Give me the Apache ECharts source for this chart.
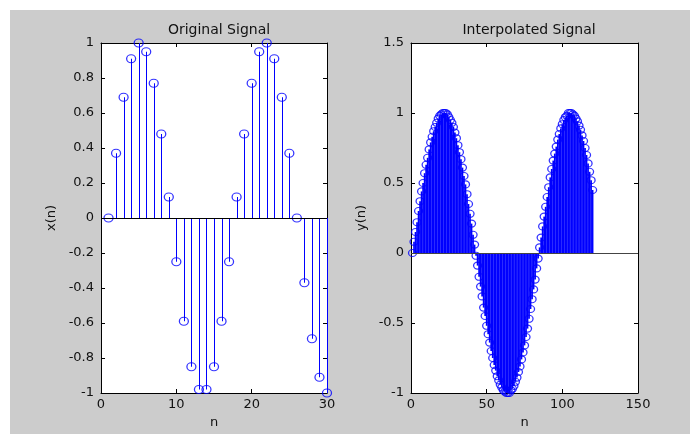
<!DOCTYPE html>
<html lang="en">
    <head>
        <meta charset="UTF-8" />
        <title>Original and Interpolated Signal</title>
        <script src="https://cdn.jsdelivr.net/npm/echarts@6/dist/echarts.min.js"></script>
        <style>
            * {
                margin: 0;
                padding: 0;
            }
            body {
                background: #fff;
                width: 690px;
                height: 434px;
                position: relative;
                overflow: hidden;
            }
            #chart {
                position: absolute;
                left: 10px;
                top: 10px;
                width: 680px;
                height: 424px;
                background: #cccccc;
            }
        </style>
    </head>
    <body>
        <div id="chart"></div>
        <script type="text/javascript">
            // left plot: x(n), n = 1..30
            const origValues = [
                0, 0.37, 0.69, 0.91, 1.0, 0.95, 0.77, 0.48, 0.12, -0.25,
                -0.59, -0.85, -0.98, -0.98, -0.85, -0.59, -0.25, 0.12, 0.48, 0.77,
                0.95, 1.0, 0.91, 0.69, 0.37, 0.0, -0.37, -0.69, -0.91, -1.0
            ];
            // right plot: y(n), n = 1..120
            const interpValues = [
                0, 0.08, 0.15, 0.22, 0.3, 0.37, 0.44, 0.5, 0.57, 0.63,
                0.68, 0.74, 0.79, 0.83, 0.87, 0.9, 0.93, 0.96, 0.98, 0.99,
                1.0, 1.0, 1.0, 0.99, 0.97, 0.95, 0.93, 0.9, 0.86, 0.82,
                0.77, 0.72, 0.67, 0.61, 0.55, 0.49, 0.42, 0.35, 0.28, 0.21,
                0.13, 0.06, -0.02, -0.09, -0.17, -0.24, -0.31, -0.39, -0.45, -0.52,
                -0.58, -0.64, -0.7, -0.75, -0.8, -0.84, -0.88, -0.91, -0.94, -0.96,
                -0.98, -0.99, -1.0, -1.0, -1.0, -0.98, -0.97, -0.95, -0.92, -0.89,
                -0.85, -0.81, -0.76, -0.71, -0.66, -0.6, -0.54, -0.47, -0.4, -0.33,
                -0.26, -0.19, -0.11, -0.04, 0.04, 0.11, 0.19, 0.26, 0.33, 0.4,
                0.47, 0.54, 0.6, 0.66, 0.71, 0.76, 0.81, 0.85, 0.89, 0.92,
                0.95, 0.97, 0.98, 1.0, 1.0, 1.0, 0.99, 0.98, 0.96, 0.94,
                0.91, 0.88, 0.84, 0.8, 0.75, 0.7, 0.64, 0.58, 0.52, 0.45
            ];
            const leftXTicks = [0, 10, 20, 30];
            const leftYTicks = [-1, -0.8, -0.6, -0.4, -0.2, 0, 0.2, 0.4, 0.6, 0.8, 1];
            const rightXTicks = [0, 50, 100, 150];
            const rightYTicks = [-1, -0.5, 0, 0.5, 1, 1.5];

            const FONT = 'DejaVu Sans';
            const TXT = '#111';
            const BLUE = '#0000ff';

            const toPairs = (vals) => vals.map((v, i) => [i + 1, v]);
            const tidy = (v) => String(Math.round(v * 10) / 10);

            function axisFrom(ticks, extra) {
                return Object.assign(
                    {
                        type: 'value',
                        min: ticks[0],
                        max: ticks[ticks.length - 1],
                        interval: Math.round((ticks[1] - ticks[0]) * 1000) / 1000,
                        splitLine: { show: false },
                        axisLine: { onZero: false, lineStyle: { color: '#000', width: 1 } },
                        axisTick: { inside: true, length: 4, lineStyle: { color: '#000' } },
                        axisLabel: { color: TXT, fontFamily: FONT, fontSize: 13, formatter: tidy },
                        nameTextStyle: { color: TXT, fontFamily: FONT, fontSize: 13 },
                    },
                    extra
                );
            }

            function stems(idx, vals, width, snap) {
                return {
                    type: 'custom',
                    xAxisIndex: idx,
                    yAxisIndex: idx,
                    silent: true,
                    z: 2,
                    data: toPairs(vals),
                    renderItem: function (params, api) {
                        var top = api.coord([api.value(0), api.value(1)]);
                        var base = api.coord([api.value(0), 0]);
                        var x = snap ? Math.round(top[0]) + 0.5 : top[0];
                        return {
                            type: 'line',
                            shape: { x1: x, y1: base[1], x2: x, y2: top[1] },
                            style: { stroke: BLUE, lineWidth: width },
                        };
                    },
                };
            }

            function markers(idx, vals, size, zeroColor) {
                return {
                    type: 'scatter',
                    xAxisIndex: idx,
                    yAxisIndex: idx,
                    silent: true,
                    z: 3,
                    symbol: 'circle',
                    symbolSize: size,
                    itemStyle: { color: 'rgba(0,0,0,0)', borderColor: BLUE, borderWidth: 1.2 },
                    data: toPairs(vals),
                    markLine: {
                        silent: true,
                        symbol: ['none', 'none'],
                        label: { show: false },
                        lineStyle: { color: zeroColor, type: 'solid', width: 1 },
                        data: [{ yAxis: 0 }],
                    },
                };
            }

            function labelled(ticks, grid, name, isY) {
                return axisFrom(ticks, {
                    gridIndex: grid,
                    position: isY ? 'left' : 'bottom',
                    name: name,
                    nameLocation: 'middle',
                    nameGap: isY ? 43 : 21,
                    axisLabel: {
                        color: TXT,
                        fontFamily: FONT,
                        fontSize: 13,
                        margin: isY ? 7 : 5,
                        formatter: tidy,
                    },
                });
            }

            function mirror(ticks, grid, pos) {
                return axisFrom(ticks, { gridIndex: grid, position: pos, axisLabel: { show: false } });
            }

            var chart = echarts.init(document.getElementById('chart'));
            var option = {
                animation: false,
                backgroundColor: 'transparent',
                title: [
                    {
                        text: 'Original Signal',
                        left: 204,
                        top: 8,
                        textAlign: 'center',
                        textStyle: { color: TXT, fontFamily: FONT, fontSize: 14, fontWeight: 'normal' },
                    },
                    {
                        text: 'Interpolated Signal',
                        left: 514,
                        top: 8,
                        textAlign: 'center',
                        textStyle: { color: TXT, fontFamily: FONT, fontSize: 14, fontWeight: 'normal' },
                    },
                ],
                grid: [
                    { left: 91, top: 33, width: 226, height: 350, show: true, backgroundColor: '#fff', borderWidth: 0 },
                    { left: 401, top: 33, width: 227, height: 350, show: true, backgroundColor: '#fff', borderWidth: 0 },
                ],
                xAxis: [
                    labelled(leftXTicks, 0, 'n', false),
                    labelled(rightXTicks, 1, 'n', false),
                    mirror(leftXTicks, 0, 'top'),
                    mirror(rightXTicks, 1, 'top'),
                ],
                yAxis: [
                    labelled(leftYTicks, 0, 'x(n)', true),
                    labelled(rightYTicks, 1, 'y(n)', true),
                    mirror(leftYTicks, 0, 'right'),
                    mirror(rightYTicks, 1, 'right'),
                ],
                series: [
                    stems(0, origValues, 1, true),
                    markers(0, origValues, [9, 8], '#000'),
                    stems(1, interpValues, 1.7, false),
                    markers(1, interpValues, [8, 7], '#444'),
                ],
            };

            chart.setOption(option);
        </script>
    </body>
</html>
